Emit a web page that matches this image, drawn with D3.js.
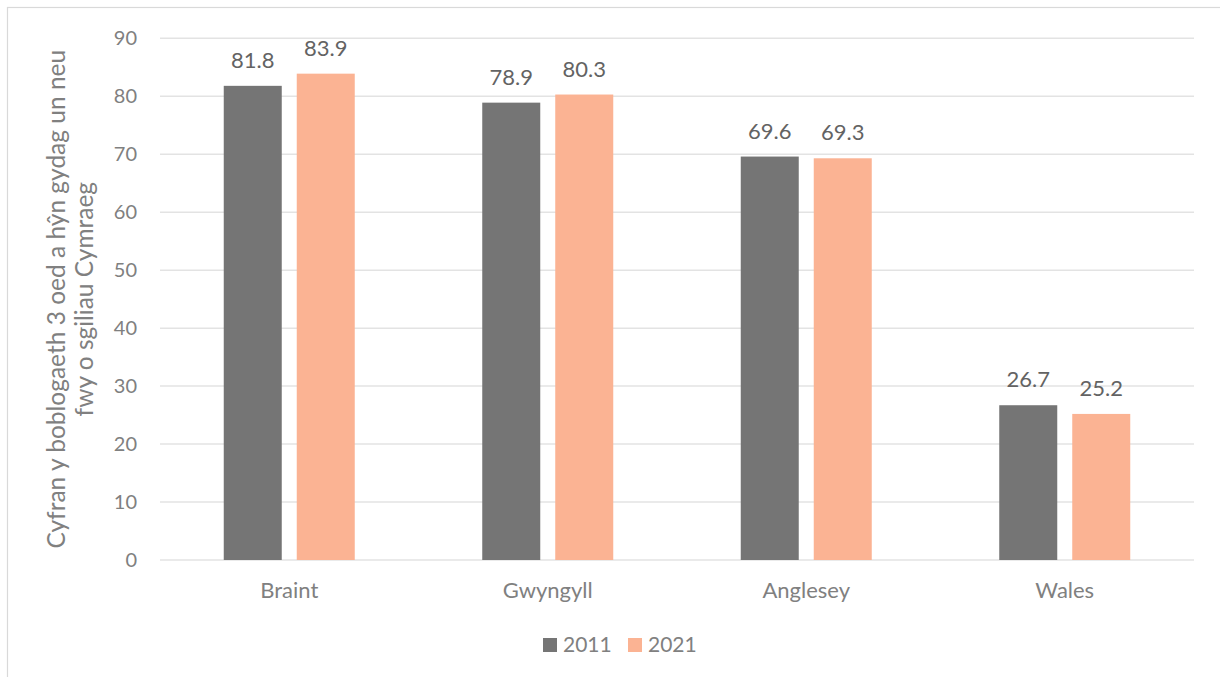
<!DOCTYPE html>
<html>
<head>
<meta charset="utf-8">
<script src="https://cdn.jsdelivr.net/npm/d3@7"></script>
<style>
html,body{margin:0;padding:0;background:#fff;}
svg{display:block;}
text{font-family:Lato, "Open Sans", sans-serif;}
</style>
</head>
<body>
<svg id="chart" width="1220" height="677"></svg>
<script>
const categories = ["Braint", "Gwyngyll", "Anglesey", "Wales"];
const seriesNames = ["2011", "2021"];
const values2011 = [81.8, 78.9, 69.6, 26.7];
const values2021 = [83.9, 80.3, 69.3, 25.2];
const yTicks = [0, 10, 20, 30, 40, 50, 60, 70, 80, 90];
const yTitleLines = ["Cyfran y boblogaeth 3 oed a hŷn gydag un neu", "fwy o sgiliau Cymraeg"];
const colors = ["#757575", "#FBB393"];

const svg = d3.select("#chart");
const plot = {left: 160, right: 1194, top: 38.3, bottom: 560};

// border
svg.append("rect").attr("x", 7.5).attr("y", 7.5).attr("width", 1240).attr("height", 700)
  .attr("fill", "none").attr("stroke", "#d9d9d9").attr("stroke-width", 1.2);

const x = d3.scaleBand().domain(categories).range([plot.left, plot.right]).paddingInner(0).paddingOuter(0);
const y = d3.scaleLinear().domain([0, 90]).range([plot.bottom, plot.top]);
const inner = d3.scaleBand().domain(seriesNames).range([-65.5, 65.5]).paddingInner(15/131 * 2 / (1 + 15/131)).paddingOuter(0);

// gridlines
svg.append("g").selectAll("line").data(yTicks).join("line")
  .attr("x1", plot.left).attr("x2", plot.right)
  .attr("y1", d => y(d)).attr("y2", d => y(d))
  .attr("stroke", "#e3e3e3").attr("stroke-width", 1.5);

// y axis labels
const yAxis = d3.axisLeft(y).tickValues(yTicks).tickSize(0).tickPadding(0).tickFormat(d3.format("d"));
const gy = svg.append("g").attr("transform", `translate(137,0)`).call(yAxis);
gy.select(".domain").remove();
gy.selectAll("text").attr("fill", "#808080").style("font-size", "20px").style("font-family", "Lato, sans-serif");

// x axis labels
const xAxis = d3.axisBottom(x).tickSize(0).tickPadding(0);
const gx = svg.append("g").attr("transform", `translate(0,${plot.bottom})`).call(xAxis);
gx.select(".domain").remove();
gx.selectAll("text").attr("fill", "#808080").style("font-size", "22px").style("font-family", "Lato, sans-serif")
  .attr("dy", null).attr("y", 38);

// bars
const data = categories.map((c, i) => ({cat: c, vals: [
  {s: seriesNames[0], v: values2011[i]}, {s: seriesNames[1], v: values2021[i]}]}));
const groups = svg.append("g").selectAll("g").data(data).join("g")
  .attr("transform", d => `translate(${x(d.cat) + x.bandwidth() / 2},0)`);
groups.selectAll("rect").data(d => d.vals).join("rect")
  .attr("x", d => inner(d.s)).attr("width", inner.bandwidth())
  .attr("y", d => y(d.v)).attr("height", d => y(0) - y(d.v))
  .attr("fill", (d, i) => colors[i]);
groups.selectAll("text.lbl").data(d => d.vals).join("text").attr("class", "lbl")
  .attr("x", d => inner(d.s) + inner.bandwidth() / 2).attr("y", d => y(d.v) - 18)
  .attr("text-anchor", "middle").attr("fill", "#636363").style("font-size", "22px")
  .text(d => d.v.toFixed(1));

// y title
const yt = svg.append("text").attr("transform", `translate(0,${(plot.top + plot.bottom) / 2}) rotate(-90)`)
  .attr("text-anchor", "middle").attr("fill", "#808080").style("font-size", "24.5px");
yt.selectAll("tspan").data(yTitleLines).join("tspan")
  .attr("x", 0).attr("y", (d, i) => 65 + i * 28).text(d => d);

// legend
const legend = svg.append("g").attr("transform", "translate(543,638)");
const li = legend.selectAll("g").data(seriesNames).join("g")
  .attr("transform", (d, i) => `translate(${i * 85},0)`);
li.append("rect").attr("width", 14).attr("height", 14).attr("fill", (d, i) => colors[i]);
li.append("text").attr("x", 20).attr("y", 14).attr("fill", "#808080").style("font-size", "21px").text(d => d);
</script>
</body>
</html>
